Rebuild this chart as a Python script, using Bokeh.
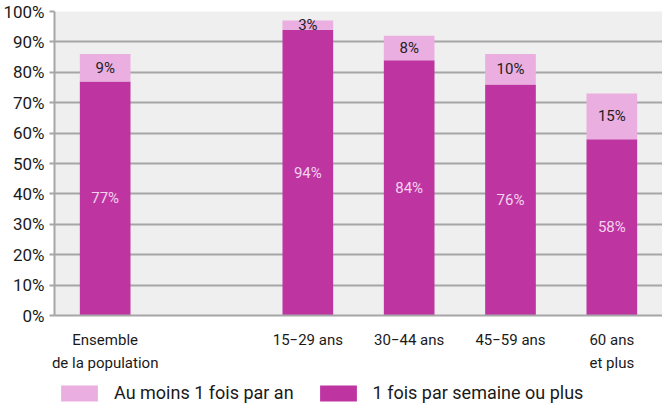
from bokeh.plotting import figure
from bokeh.layouts import column
from bokeh.models import FactorRange, Range1d, Legend, LegendItem, ColumnDataSource, PrintfTickFormatter, FixedTicker
from bokeh.core.properties import value
from bokeh.embed import file_html
from bokeh.resources import INLINE

# ---- data ----
categories = ["Ensemble\nde la population", "15−29 ans", "30−44 ans", "45−59 ans", "60 ans\net plus"]
axis_factors = ["Ensemble\nde la population", " ", "15−29 ans", "30−44 ans", "45−59 ans", "60 ans\net plus"]
weekly = [77, 94, 84, 76, 58]     # 1 fois par semaine ou plus
yearly = [9, 3, 8, 10, 15]        # Au moins 1 fois par an
y_ticks = [0, 10, 20, 30, 40, 50, 60, 70, 80, 90, 100]
series_names = ["Au moins 1 fois par an", "1 fois par semaine ou plus"]

FONT = "Roboto"
DARK = "#BE35A2"
LIGHT = "#EBAEE0"
GRID = "#A6A6A6"

src = ColumnDataSource(dict(
    cat=categories,
    weekly=weekly,
    yearly=yearly,
    mid_w=[w / 2 for w in weekly],
    mid_y=[w + y / 2 for w, y in zip(weekly, yearly)],
    lab_w=[f"{w}%" for w in weekly],
    lab_y=[f"{y}%" for y in yearly],
))

p = figure(frame_width=608, frame_height=304, x_range=FactorRange(*axis_factors, range_padding=0),
           y_range=Range1d(0, 100), output_backend="svg", toolbar_location=None,
           min_border_left=52, min_border_right=0, min_border_top=11, min_border_bottom=0)

r = p.vbar_stack(["weekly", "yearly"], x="cat", width=0.5, color=[DARK, LIGHT],
                 line_color=None, source=src)

p.text(x="cat", y="mid_w", text="lab_w", source=src, text_align="center",
       text_baseline="middle", text_color="#F4D2EE", text_font=value(FONT),
       text_font_size="15px")
p.text(x="cat", y="mid_y", text="lab_y", source=src, text_align="center",
       text_baseline="middle", text_color="#222222", text_font=value(FONT),
       text_font_size="15px")

p.background_fill_color = "#EFEFEF"
p.outline_line_color = None
p.xgrid.grid_line_color = None
p.ygrid.grid_line_color = GRID
p.ygrid.grid_line_width = 2

p.yaxis.ticker = FixedTicker(ticks=y_ticks)
p.yaxis.formatter = PrintfTickFormatter(format="%d%%")
p.yaxis.axis_line_color = GRID
p.yaxis.axis_line_width = 2
p.yaxis.major_tick_line_color = GRID
p.yaxis.major_tick_line_width = 2
p.yaxis.major_tick_out = 5
p.yaxis.major_tick_in = 0
p.yaxis.minor_tick_line_color = None
p.yaxis.major_label_text_font = FONT
p.yaxis.major_label_text_font_size = "17px"
p.yaxis.major_label_text_color = "#1A1A1A"
p.yaxis.major_label_standoff = 5

p.xaxis.axis_line_color = GRID
p.xaxis.axis_line_width = 2
p.xaxis.major_tick_line_color = None
p.xaxis.major_tick_out = 0
p.xaxis.minor_tick_line_color = None
p.xaxis.major_label_text_font = FONT
p.xaxis.major_label_text_font_size = "15px"
p.xaxis.major_label_text_color = "#1A1A1A"
p.xaxis.major_label_text_line_height = 1.3
p.xaxis.major_label_standoff = 15
p.xaxis.axis_label_standoff = 0

# ---- legend strip (bars drawn outside its y range, only swatches show) ----
lf = figure(width=660, height=29, x_range=p.x_range, y_range=Range1d(1000, 1001),
            output_backend="svg", toolbar_location=None, min_border=0)
lf.axis.visible = False
lf.grid.grid_line_color = None
lf.outline_line_color = None
lr = lf.vbar_stack(["weekly", "yearly"], x="cat", width=0.5, color=[DARK, LIGHT],
                   line_color=None, source=src)
legend = Legend(items=[LegendItem(label=series_names[0], renderers=[lr[1]]),
                       LegendItem(label=series_names[1], renderers=[lr[0]])],
                orientation="horizontal", location=(2, 0),
                glyph_width=46, glyph_height=20, label_standoff=12, spacing=21,
                label_text_font=FONT, label_text_font_size="18px",
                label_text_color="#1A1A1A", border_line_color=None,
                background_fill_alpha=0, padding=0, margin=0)
lf.add_layout(legend, "center")

open("out.html", "w").write(file_html(column(p, lf, spacing=0), INLINE))
